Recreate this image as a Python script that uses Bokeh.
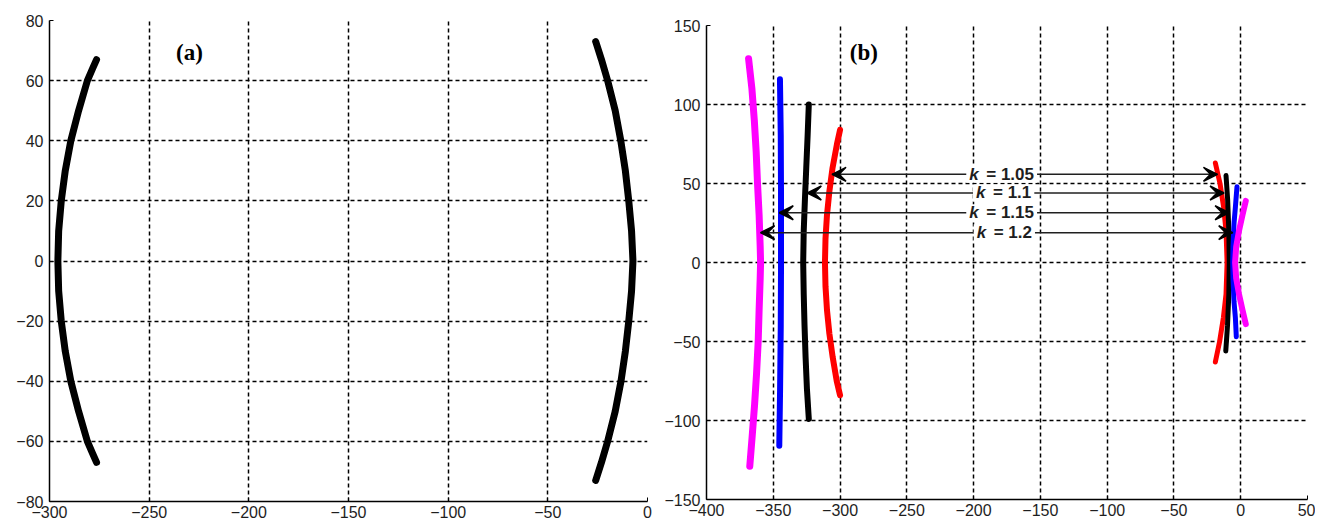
from bokeh.plotting import figure
from bokeh.layouts import row, column
from bokeh.models import FixedTicker, Range1d, Arrow, VeeHead, Label, ColumnDataSource, Spacer
from bokeh.core.properties import value
from bokeh.embed import file_html
from bokeh.resources import INLINE

# ---------------- data: panel (a) ----------------
a_xticks = [-300, -250, -200, -150, -100, -50, 0]
a_yticks = [-80, -60, -40, -20, 0, 20, 40, 60, 80]
a_left_y = [67, 64, 60, 50, 40, 30, 20, 10, 0, -10, -20, -30, -40, -50, -60, -64, -67]
a_left_x = [-276.4, -278.4, -281.0, -285.4, -289.3, -292.1, -294.1, -295.4, -295.8,
            -295.4, -294.1, -292.1, -289.3, -285.4, -281.0, -278.4, -276.4]
a_right_y = [73, 67, 60, 50, 40, 30, 20, 10, 0, -10, -20, -30, -40, -50, -60, -67, -73]
a_right_x = [-26.0, -23.1, -20.0, -16.2, -13.4, -11.1, -9.4, -8.0, -7.3,
             -8.0, -9.4, -11.1, -13.3, -16.2, -20.0, -23.1, -26.0]
a_label = ["(a)"]
a_label_x = [-229.8]
a_label_y = [69.4]

# ---------------- data: panel (b) ----------------
b_xticks = [-400, -350, -300, -250, -200, -150, -100, -50, 0, 50]
b_yticks = [-150, -100, -50, 0, 50, 100, 150]

magenta_l_y = [129, 110, 90, 70, 50, 30, 10, 0, -10, -30, -50, -70, -90, -110, -129]
magenta_l_x = [-368.5, -366.0, -364.2, -362.8, -361.8, -360.6, -359.8, -359.5,
               -359.8, -360.6, -361.3, -362.5, -364.0, -365.8, -367.6]
blue_l_y = [116, 80, 40, 0, -40, -80, -116]
blue_l_x = [-345.0, -344.4, -344.2, -344.2, -344.4, -344.9, -345.5]
black_l_y = [100, 80, 60, 40, 20, 0, -20, -40, -60, -80, -99]
black_l_x = [-323.4, -324.3, -325.3, -326.3, -327.2, -327.6, -327.2, -326.6,
             -325.8, -324.8, -323.4]
red_l_y = [84, 75, 60, 45, 30, 15, 0, -15, -30, -45, -60, -75, -84]
red_l_x = [-300.0, -302.3, -305.6, -308.0, -309.8, -310.9, -311.3, -310.9,
           -309.8, -308.0, -305.5, -302.5, -300.0]

red_r_y = [63, 50, 35, 20, 0, -20, -35, -50, -63]
red_r_x = [-19.0, -15.5, -12.8, -11.0, -10.2, -11.0, -13.0, -15.8, -19.0]
black_r_y = [55, 40, 20, 0, -20, -40, -56]
black_r_x = [-11.0, -9.8, -8.9, -8.6, -8.9, -9.9, -11.2]
blue_r_y = [48, 35, 25, 10, 0, -10, -25, -35, -47]
blue_r_x = [-2.8, -4.0, -5.0, -5.8, -6.0, -5.8, -5.0, -4.0, -3.3]
magenta_r_y = [39, 30, 20, 10, 0, -10, -20, -30, -39]
magenta_r_x = [3.8, 1.3, -1.3, -3.4, -4.2, -3.4, -1.3, 1.3, 3.8]

k_values = ["1.05", "1.1", "1.15", "1.2"]
arrow_y = [55.8, 44.0, 31.5, 18.9]
arrow_x_left = [-306.0, -324.5, -345.5, -359.5]
arrow_x_right = [-17.4, -12.5, -8.7, -6.0]
k_label_x = [-179.0, -177.5, -179.0, -177.0]

b_label = ["(b)"]
b_label_x = [-282.2]
b_label_y = [132.9]

FONT = "Liberation Sans"


def style(p, xticks, yticks):
    p.outline_line_color = None
    p.background_fill_color = "white"
    for ax in (p.xaxis[0], p.yaxis[0]):
        ax.axis_line_color = "black"
        ax.axis_line_width = 1.5
        ax.major_tick_in = 4
        ax.major_tick_out = 0
        ax.major_tick_line_color = "black"
        ax.minor_tick_in = 0
        ax.minor_tick_out = 0
        ax.major_label_text_font = FONT
        ax.major_label_text_font_size = "16px"
        ax.major_label_text_color = "#1e1e1e"
    p.xaxis[0].ticker = FixedTicker(ticks=xticks)
    p.yaxis[0].ticker = FixedTicker(ticks=yticks)
    p.xaxis[0].major_label_standoff = 4
    p.yaxis[0].major_label_standoff = 6
    for g in (p.xgrid[0], p.ygrid[0]):
        g.grid_line_color = "black"
        g.grid_line_dash = "4 3"
        g.grid_line_width = 1.5
    p.xgrid[0].ticker = FixedTicker(ticks=xticks)
    p.ygrid[0].ticker = FixedTicker(ticks=yticks)


# ---------------- panel (a) ----------------
pa = figure(width=658, height=524, output_backend="svg", toolbar_location=None,
            x_range=Range1d(-300, 0), y_range=Range1d(-80, 80),
            min_border_left=49, min_border_right=11, min_border_top=20,
            min_border_bottom=23)
style(pa, a_xticks, a_yticks)
pa.line(a_left_x, a_left_y, line_color="black", line_width=7,
        line_cap="round", line_join="round")
pa.line(a_right_x, a_right_y, line_color="black", line_width=7,
        line_cap="round", line_join="round")
pa.text(x=a_label_x, y=a_label_y, text=a_label, text_font=value("Liberation Serif"),
        text_font_style="bold", text_font_size="23px", text_align="center",
        text_baseline="middle", text_color="black")

# ---------------- panel (b) ----------------
pb = figure(width=657, height=519, output_backend="svg", toolbar_location=None,
            x_range=Range1d(-400, 50), y_range=Range1d(-150, 150),
            min_border_left=48, min_border_right=8, min_border_top=20,
            min_border_bottom=25)
style(pb, b_xticks, b_yticks)

curves = [
    (magenta_l_x, magenta_l_y, "#ff00ff", 7),
    (blue_l_x, blue_l_y, "#0000ff", 6),
    (black_l_x, black_l_y, "black", 6),
    (red_l_x, red_l_y, "#ff0000", 6),
    (red_r_x, red_r_y, "#ff0000", 5),
    (black_r_x, black_r_y, "black", 5),
    (blue_r_x, blue_r_y, "#0000ff", 5),
    (magenta_r_x, magenta_r_y, "#ff00ff", 6),
]
for xs, ys, c, w in curves:
    pb.line(xs, ys, line_color=c, line_width=w, line_cap="round", line_join="round")

# arrow bodies
pb.segment(x0=arrow_x_left, y0=arrow_y, x1=arrow_x_right, y1=arrow_y,
           line_color="#202020", line_width=1.5)

# text widths (approx, Liberation Sans Bold 17px)
CW = {"=": 9.9, " ": 4.7, ".": 4.7}
def wid(s):
    return sum(CW.get(ch, 9.5) for ch in s)

GAP = 17
widths = [GAP + wid("= " + v) for v in k_values]

pb.rect(x=k_label_x, y=arrow_y, width=[w + 6 for w in widths], height=17,
        width_units="screen", height_units="screen", fill_color="white",
        line_color=None)

heads = ColumnDataSource(dict(x0=arrow_x_left, x1=arrow_x_right, y=arrow_y))
for xs, xe in (("x1", "x0"), ("x0", "x1")):
    pb.add_layout(Arrow(end=VeeHead(size=14, fill_color="black", line_color="black",
                                    line_width=1.5),
                        x_start=xs, y_start="y", x_end=xe, y_end="y",
                        source=heads, line_alpha=0))

for v, ky, kx, W in zip(k_values, arrow_y, k_label_x, widths):
    pb.add_layout(Label(x=kx, y=ky, x_offset=-W / 2, text="k", text_font=FONT,
                        text_font_style="bold italic", text_font_size="17px",
                        text_align="left", text_baseline="middle",
                        text_color="#1e1e1e"))
    pb.add_layout(Label(x=kx, y=ky, x_offset=-W / 2 + GAP, text="= " + v,
                        text_font=FONT, text_font_style="bold",
                        text_font_size="17px", text_align="left",
                        text_baseline="middle", text_color="#1e1e1e"))

pb.text(x=b_label_x, y=b_label_y, text=b_label, text_font=value("Liberation Serif"),
        text_font_style="bold", text_font_size="23px", text_align="center",
        text_baseline="middle", text_color="black")

layout = row(pa, column(Spacer(width=657, height=5), pb))
open("out.html", "w").write(file_html(layout, INLINE))
